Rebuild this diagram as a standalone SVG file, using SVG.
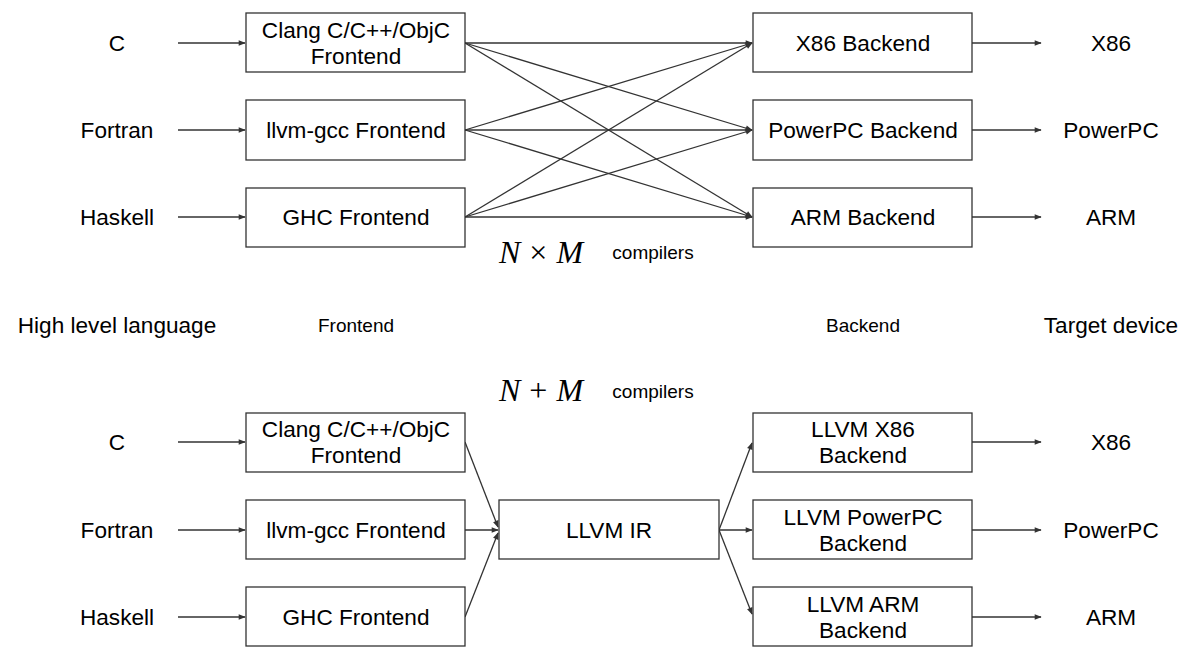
<svg xmlns="http://www.w3.org/2000/svg" width="1190" height="653" viewBox="0 0 1190 653">
<style>
.box{fill:#fff;stroke:#333;stroke-width:1.3}
.t{font-family:"Liberation Sans",Arial,sans-serif;font-size:22.6px;fill:#000;text-anchor:middle}
.s{font-family:"Liberation Sans",Arial,sans-serif;font-size:19px;fill:#000;text-anchor:middle}
.m{font-family:"Liberation Serif","Times New Roman",serif;font-size:32px;fill:#000}
.e{stroke:#333;stroke-width:1.3;fill:none;marker-end:url(#ah)}
</style>
<defs>
<marker id="ah" viewBox="0 0 10 10" refX="9" refY="5" markerWidth="9" markerHeight="7" markerUnits="userSpaceOnUse" orient="auto">
<path d="M0,1 L10,5 L0,9 Z" fill="#333"/>
</marker>
</defs>
<g id="connectors">
<line class="e" x1="178" y1="43" x2="245" y2="43"/>
<line class="e" x1="178" y1="130" x2="245" y2="130"/>
<line class="e" x1="178" y1="217" x2="245" y2="217"/>
<line class="e" x1="465" y1="43" x2="752" y2="43"/>
<line class="e" x1="465" y1="43" x2="752" y2="130"/>
<line class="e" x1="465" y1="43" x2="752" y2="217"/>
<line class="e" x1="465" y1="130" x2="752" y2="43"/>
<line class="e" x1="465" y1="130" x2="752" y2="130"/>
<line class="e" x1="465" y1="130" x2="752" y2="217"/>
<line class="e" x1="465" y1="217" x2="752" y2="43"/>
<line class="e" x1="465" y1="217" x2="752" y2="130"/>
<line class="e" x1="465" y1="217" x2="752" y2="217"/>
<line class="e" x1="972" y1="43" x2="1041" y2="43"/>
<line class="e" x1="972" y1="130" x2="1041" y2="130"/>
<line class="e" x1="972" y1="217" x2="1041" y2="217"/>
<line class="e" x1="178" y1="442" x2="245" y2="442"/>
<line class="e" x1="178" y1="530" x2="245" y2="530"/>
<line class="e" x1="178" y1="617" x2="245" y2="617"/>
<line class="e" x1="465" y1="442" x2="498" y2="527"/>
<line class="e" x1="465" y1="530" x2="498" y2="530"/>
<line class="e" x1="465" y1="617" x2="498" y2="533"/>
<line class="e" x1="719" y1="530" x2="752" y2="443"/>
<line class="e" x1="719" y1="530" x2="752" y2="530"/>
<line class="e" x1="719" y1="530" x2="752" y2="614"/>
<line class="e" x1="972" y1="442" x2="1041" y2="442"/>
<line class="e" x1="972" y1="530" x2="1041" y2="530"/>
<line class="e" x1="972" y1="617" x2="1041" y2="617"/>
</g>
<g id="lang-c-top"><text class="t" x="117" y="51">C</text></g>
<g id="lang-fortran-top"><text class="t" x="117" y="138">Fortran</text></g>
<g id="lang-haskell-top"><text class="t" x="117" y="225">Haskell</text></g>
<g id="fe-clang-top"><rect class="box" x="246" y="13" width="219" height="59"/><text class="t" x="356" y="38">Clang C/C++/ObjC</text><text class="t" x="356" y="64">Frontend</text></g>
<g id="fe-llvmgcc-top"><rect class="box" x="246" y="100" width="219" height="60"/><text class="t" x="356" y="138">llvm-gcc Frontend</text></g>
<g id="fe-ghc-top"><rect class="box" x="246" y="188" width="219" height="59"/><text class="t" x="356" y="225">GHC Frontend</text></g>
<g id="be-x86-top"><rect class="box" x="753" y="13" width="219" height="59"/><text class="t" x="863" y="51">X86 Backend</text></g>
<g id="be-ppc-top"><rect class="box" x="753" y="100" width="219" height="60"/><text class="t" x="863" y="138">PowerPC Backend</text></g>
<g id="be-arm-top"><rect class="box" x="753" y="188" width="219" height="59"/><text class="t" x="863" y="225">ARM Backend</text></g>
<g id="tgt-x86-top"><text class="t" x="1111" y="51">X86</text></g>
<g id="tgt-ppc-top"><text class="t" x="1111" y="138">PowerPC</text></g>
<g id="tgt-arm-top"><text class="t" x="1111" y="225">ARM</text></g>
<g id="nxm"><text class="m" x="499" y="263"><tspan font-style="italic">N</tspan><tspan dx="9">×</tspan><tspan dx="9" font-style="italic">M</tspan></text><text class="s" x="653" y="259">compilers</text></g>
<g id="headings">
<text class="t" x="117" y="333">High level language</text>
<text class="s" x="356" y="332">Frontend</text>
<text class="s" x="863" y="332">Backend</text>
<text class="t" x="1111" y="333">Target device</text>
</g>
<g id="npm"><text class="m" x="499" y="401"><tspan font-style="italic">N</tspan><tspan dx="9">+</tspan><tspan dx="9" font-style="italic">M</tspan></text><text class="s" x="653" y="398">compilers</text></g>
<g id="lang-c-bot"><text class="t" x="117" y="450">C</text></g>
<g id="lang-fortran-bot"><text class="t" x="117" y="538">Fortran</text></g>
<g id="lang-haskell-bot"><text class="t" x="117" y="625">Haskell</text></g>
<g id="fe-clang-bot"><rect class="box" x="246" y="413" width="219" height="59"/><text class="t" x="356" y="437">Clang C/C++/ObjC</text><text class="t" x="356" y="463">Frontend</text></g>
<g id="fe-llvmgcc-bot"><rect class="box" x="246" y="500" width="219" height="59"/><text class="t" x="356" y="538">llvm-gcc Frontend</text></g>
<g id="fe-ghc-bot"><rect class="box" x="246" y="587" width="219" height="59"/><text class="t" x="356" y="625">GHC Frontend</text></g>
<g id="llvm-ir"><rect class="box" x="499" y="500" width="220" height="59"/><text class="t" x="609" y="538">LLVM IR</text></g>
<g id="be-x86-bot"><rect class="box" x="753" y="413" width="219" height="59"/><text class="t" x="863" y="437">LLVM X86</text><text class="t" x="863" y="463">Backend</text></g>
<g id="be-ppc-bot"><rect class="box" x="753" y="500" width="219" height="59"/><text class="t" x="863" y="525">LLVM PowerPC</text><text class="t" x="863" y="551">Backend</text></g>
<g id="be-arm-bot"><rect class="box" x="753" y="587" width="219" height="59"/><text class="t" x="863" y="612">LLVM ARM</text><text class="t" x="863" y="638">Backend</text></g>
<g id="tgt-x86-bot"><text class="t" x="1111" y="450">X86</text></g>
<g id="tgt-ppc-bot"><text class="t" x="1111" y="538">PowerPC</text></g>
<g id="tgt-arm-bot"><text class="t" x="1111" y="625">ARM</text></g>
</svg>
